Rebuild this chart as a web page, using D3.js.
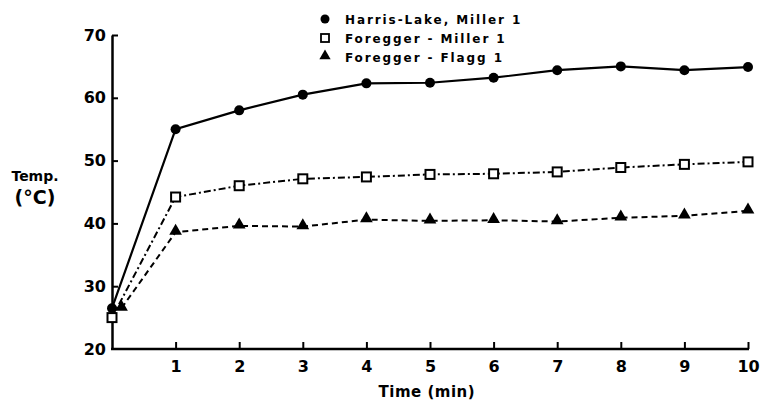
<!DOCTYPE html>
<html>
<head>
<meta charset="utf-8">
<script src="https://cdn.jsdelivr.net/npm/d3@7"></script>
<style>
  body { margin: 0; background: #fff; }
  text { font-family: "DejaVu Sans", sans-serif; font-weight: bold; fill: #000; }
</style>
</head>
<body>
<script>
// data
let times = [0, 1, 2, 3, 4, 5, 6, 7, 8, 9, 10];
let flaggTimes = [0.15, 1, 2, 3, 4, 5, 6, 7, 8, 9, 10];
let harrisLake = [26.5, 55, 58, 60.5, 62.3, 62.4, 63.2, 64.4, 65, 64.4, 64.9];
let foreggerMiller = [25, 44.2, 46, 47.1, 47.4, 47.8, 47.9, 48.2, 48.9, 49.4, 49.8];
let foreggerFlagg = [26.5, 38.6, 39.6, 39.5, 40.6, 40.4, 40.5, 40.3, 40.9, 41.2, 42];
let xTicks = [1, 2, 3, 4, 5, 6, 7, 8, 9, 10];
let yTicks = [20, 30, 40, 50, 60, 70];
let seriesNames = ['Harris-Lake, Miller 1', 'Foregger - Miller 1', 'Foregger - Flagg 1'];

let width = 761;
let height = 402;

let svg = d3.select('body')
            .append('svg')
            .attr('width', width)
            .attr('height', height);

let xScale = d3.scaleLinear().domain([0, 10]).range([112, 748]);
let yScale = d3.scaleLinear().domain([20, 70]).range([349, 35]);

// axes
let xAxis = d3.axisBottom(xScale).tickValues(xTicks).tickSizeInner(-7).tickSizeOuter(0).tickPadding(12);
let gx = svg.append('g')
    .attr('transform', 'translate(0,' + yScale(20) + ')')
    .call(xAxis);
gx.select('.domain').attr('stroke-width', 2.5).attr('d', 'M' + (xScale(0) - 1) + ',0H' + (xScale(10) + 1));
gx.selectAll('.tick line').attr('stroke-width', 2);
gx.selectAll('.tick text').style('font-size', '16px').attr('dy', '0.71em').attr('fill', '#000');

let yAxis = d3.axisLeft(yScale).tickValues(yTicks).tickSizeInner(-6).tickSizeOuter(0).tickPadding(6);
let gy = svg.append('g')
    .attr('transform', 'translate(' + xScale(0) + ',0)')
    .call(yAxis);
gy.select('.domain').attr('stroke-width', 2.5);
gy.selectAll('.tick line').attr('stroke-width', 2);
gy.selectAll('.tick text').style('font-size', '16px').attr('fill', '#000');
gy.selectAll('.tick').filter(d => d === 20).select('line').remove();

// axis titles
svg.append('text').attr('x', 35).attr('y', 181).attr('text-anchor', 'middle')
    .style('font-size', '14px').text('Temp.');
svg.append('text').attr('x', 35).attr('y', 204).attr('text-anchor', 'middle')
    .style('font-size', '19px').text('(°C)');
svg.append('text').attr('x', xScale(4.95)).attr('y', 397).attr('text-anchor', 'middle')
    .style('font-size', '15px').style('letter-spacing', '0.5px').text('Time (min)');

let line = d3.line().x(d => xScale(d[0])).y(d => yScale(d[1]));

let harrisPts = times.map((t, i) => [t, harrisLake[i]]);
let millerPts = times.map((t, i) => [t, foreggerMiller[i]]);
let flaggPts = flaggTimes.map((t, i) => [t, foreggerFlagg[i]]);

svg.append('path').datum(harrisPts).attr('d', line)
    .attr('fill', 'none').attr('stroke', '#000').attr('stroke-width', 2.2);
svg.append('path').datum(millerPts).attr('d', line)
    .attr('fill', 'none').attr('stroke', '#000').attr('stroke-width', 2)
    .attr('stroke-dasharray', '7,3,2,3');
svg.append('path').datum(flaggPts).attr('d', line)
    .attr('fill', 'none').attr('stroke', '#000').attr('stroke-width', 2)
    .attr('stroke-dasharray', '6,4');

let triangle = d3.symbol().type(d3.symbolTriangle).size(70);

svg.selectAll('.tri').data(flaggPts).enter().append('path')
    .attr('transform', d => 'translate(' + xScale(d[0]) + ',' + (yScale(d[1]) - 1) + ')')
    .attr('d', triangle).attr('fill', '#000');

svg.selectAll('.sq').data(millerPts).enter().append('rect')
    .attr('x', d => xScale(d[0]) - 4.5).attr('y', d => yScale(d[1]) - 4.5)
    .attr('width', 9).attr('height', 9)
    .attr('fill', '#fff').attr('stroke', '#000').attr('stroke-width', 2);

svg.selectAll('.dot').data(harrisPts).enter().append('circle')
    .attr('cx', d => xScale(d[0])).attr('cy', d => yScale(d[1]))
    .attr('r', 5).attr('fill', '#000');

// legend
let legend = svg.append('g').attr('transform', 'translate(325,19)');
let rowGap = 19;
legend.append('circle').attr('cx', 0).attr('cy', 0).attr('r', 4.5).attr('fill', '#000');
legend.append('rect').attr('x', -4).attr('y', rowGap - 4).attr('width', 8).attr('height', 8)
    .attr('fill', '#fff').attr('stroke', '#000').attr('stroke-width', 1.8);
legend.append('path').attr('transform', 'translate(0,' + (rowGap * 2 - 1) + ')')
    .attr('d', d3.symbol().type(d3.symbolTriangle).size(55)).attr('fill', '#000');
legend.selectAll('.lt').data(seriesNames).enter().append('text')
    .attr('x', 20).attr('y', (d, i) => i * rowGap + 4.5)
    .style('font-size', '12px').style('letter-spacing', '1.9px')
    .text(d => d);
</script>
</body>
</html>
